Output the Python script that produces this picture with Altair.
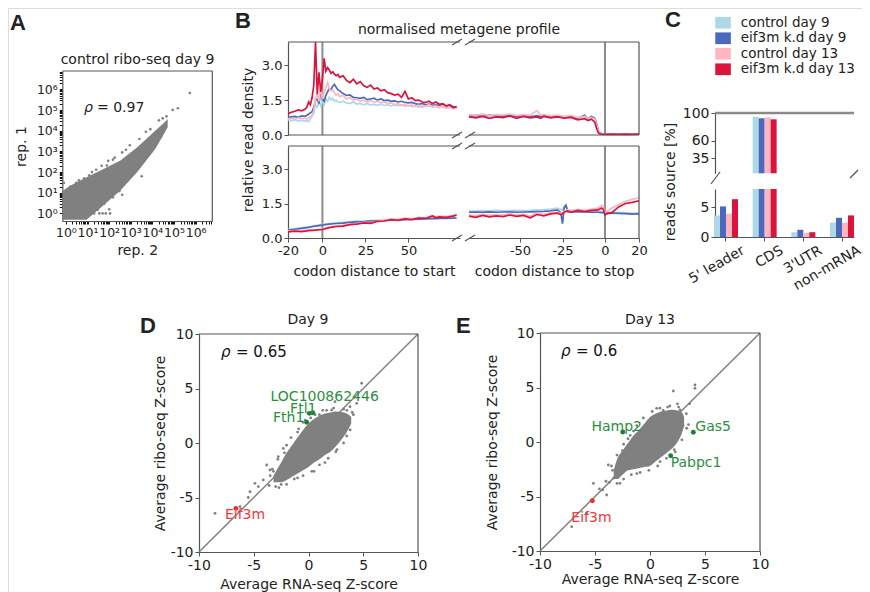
import altair as alt
import pandas as pd

FONT = "DejaVu Sans"
TXT = "#222222"
SPINE = "#555555"
GRAY = "#808080"
VLINE = "#8c8c8c"
M = 8
W, H = 854, 584

SERIES = ["control day 9", "eif3m k.d day 9", "control day 13", "eif3m k.d day 13"]
COLORS = ["#add8e6", "#4a69bd", "#ffb6c1", "#dc143c"]

# ---------------- Panel A (log-log replicate scatter) ----------------
a_band_x = [0.7, 2.0, 9.0, 55, 330, 2000, 13500, 32000, 51000]
a_band_lo = [0.5, 0.5, 0.5, 2.5, 13, 100, 1300, 6300, 14800]
a_band_hi = [12.6, 25, 56, 141, 363, 1585, 10000, 22400, 37200]
a_pt_x = [537000, 151000, 87000, 3470, 78, 1.6, 4, 16, 100, 400, 3200, 20000, 20,
          35, 50, 70, 110, 30000, 45000, 8000, 2500, 600, 150, 0.8, 1.2, 6,
          1.5, 3, 7, 12, 25, 45, 90, 180, 400, 900, 5000,
          30, 60, 150, 300, 700, 1500, 4000, 10000, 25000]
a_pt_y = [676000, 123000, 102000, 760, 209, 20, 40, 100, 1.6, 8, 63, 32000, 1,
          1, 1, 1, 1, 40000, 50000, 12000, 4000, 1200, 400, 30, 14, 0.6,
          18, 30, 50, 70, 130, 200, 350, 500, 900, 2000, 9000,
          1.5, 3, 6, 12, 40, 110, 500, 1500, 5000]

# ---------------- Panel B (metagene profiles) ----------------
b_start_x = [-20, -18, -16, -14, -12, -10, -9, -8, -7, -6, -5, -4, -3, -2, -1, 0, 1, 2, 3, 4,
             5, 6, 7, 8, 9, 10, 12, 14, 16, 18, 20, 22, 24, 26, 28, 30, 32, 34, 36, 38, 40,
             42, 44, 46, 48, 50, 52, 54, 56, 58, 60, 62, 64, 66, 68, 70, 72, 74, 76, 78]
tl_lblue = [0.65, 0.62, 0.66, 0.6, 0.63, 0.6,
            0.62, 0.58, 0.7, 0.8, 0.95, 1.3, 1.2, 1.4, 1.25, 1.5, 1.3, 1.55, 1.45, 1.62,
            1.5, 1.58, 1.45, 1.5, 1.42, 1.4,
            1.45, 1.38, 1.35, 1.42, 1.33, 1.36, 1.3, 1.35, 1.3, 1.32, 1.28, 1.33, 1.27, 1.3,
            1.25, 1.3, 1.26, 1.28, 1.24, 1.27, 1.22, 1.25, 1.2, 1.24, 1.22, 1.25, 1.2, 1.23,
            1.18, 1.22, 1.17, 1.2, 1.15, 1.18]
tl_blue = [0.75, 0.78, 0.8, 0.76, 0.82, 0.8,
           0.85, 0.9, 0.95, 1.0, 1.2, 1.5, 1.55, 1.35, 1.9, 1.55, 1.45, 1.7, 1.85, 2.0,
           1.95, 2.1, 2.18, 2.05, 1.95, 1.9,
           1.78, 1.7, 1.72, 1.62, 1.6, 1.58, 1.62, 1.52, 1.55, 1.58, 1.5, 1.55, 1.48, 1.5,
           1.45, 1.47, 1.42, 1.45, 1.4, 1.38, 1.4, 1.35, 1.32, 1.36, 1.3, 1.33, 1.28, 1.3,
           1.27, 1.32, 1.25, 1.28, 1.22, 1.2]
tl_pink = [0.7, 0.72, 0.68, 0.74, 0.7, 0.72,
           0.68, 0.75, 0.8, 0.85, 1.05, 1.6, 1.75, 1.45, 2.1, 1.55, 1.8, 2.05, 2.25, 2.0,
           1.9, 1.95, 1.8, 1.72, 1.78, 1.65,
           1.7, 1.55, 1.6, 1.5, 1.55, 1.45, 1.5, 1.42, 1.48, 1.4, 1.45, 1.38, 1.42, 1.35,
           1.38, 1.3, 1.35, 1.28, 1.32, 1.25, 1.3, 1.22, 1.28, 1.2, 1.25, 1.3, 1.22, 1.25,
           1.18, 1.22, 1.15, 1.2, 1.12, 1.15]
tl_red = [0.92, 0.98, 1.02, 1.08, 1.04, 1.12,
          1.2, 1.42, 1.3, 1.6, 2.15, 4.0, 1.75, 2.7, 1.85, 2.4, 3.3, 2.75, 2.9, 2.8,
          2.65, 2.72, 2.62, 2.55, 2.6, 2.48,
          2.55, 2.35, 2.25, 2.4, 2.2, 2.3, 2.12, 2.05, 2.15, 1.98, 2.02, 1.9, 1.95, 1.82,
          1.78, 1.72, 1.76, 1.62, 1.88, 1.55, 1.6, 1.48, 1.5, 1.42, 1.4, 1.45, 1.35, 1.42,
          1.32, 1.35, 1.25, 1.3, 1.18, 1.22]

b_stop_x = [-80, -76, -72, -68, -64, -60, -56, -52, -48, -44, -40, -38, -36, -32, -28, -24,
            -20, -16, -12, -10, -8, -6, -5, -4, -3, -2, 0, 4, 8, 12, 16, 20]
tr_lblue = [0.84, 0.82, 0.86, 0.8, 0.85, 0.83, 0.86, 0.82, 0.85, 0.8, 0.84, 0.8, 0.85, 0.8,
            0.83, 0.78, 0.82, 0.74, 0.8, 0.7, 0.76, 0.7, 0.48, 0.18, 0.07, 0.05, 0.04, 0.04,
            0.04, 0.04, 0.04, 0.04]
tr_blue = [0.8, 0.84, 0.8, 0.86, 0.82, 0.8, 0.85, 0.8, 0.84, 0.78, 0.82, 0.8, 0.84, 0.78,
           0.8, 0.75, 0.8, 0.72, 0.85, 0.7, 0.8, 0.72, 0.5, 0.2, 0.08, 0.05, 0.04, 0.04,
           0.04, 0.04, 0.04, 0.04]
tr_pink = [0.88, 0.85, 0.9, 0.84, 0.88, 0.86, 0.9, 0.84, 0.88, 0.85, 1.05, 0.86, 0.88, 0.82,
           0.86, 0.8, 0.84, 0.75, 0.8, 0.72, 0.75, 0.68, 0.45, 0.18, 0.07, 0.05, 0.04, 0.04,
           0.04, 0.04, 0.04, 0.04]
tr_red = [0.78, 0.74, 0.8, 0.72, 0.78, 0.75, 0.82, 0.72, 0.8, 0.74, 0.78, 0.72, 0.8, 0.74,
          0.78, 0.72, 0.76, 0.65, 0.7, 0.62, 0.68, 0.55, 0.3, 0.1, 0.05, 0.04, 0.03, 0.04,
          0.03, 0.04, 0.03, 0.04]

b_start2_x = [-20, -16, -12, -8, -4, 0, 4, 8, 12, 16, 20, 24, 28, 32, 36, 40, 44, 48, 52,
              56, 60, 64, 66, 68, 72, 76, 78]
bl_lblue = [0.37, 0.41, 0.45, 0.49, 0.54, 0.59, 0.63, 0.66, 0.68, 0.71, 0.73, 0.74, 0.76,
            0.78, 0.79, 0.81, 0.82, 0.83, 0.84, 0.85, 0.86, 0.87, 0.87, 0.88, 0.88, 0.89, 0.9]
bl_blue = [0.34, 0.38, 0.42, 0.46, 0.52, 0.56, 0.6, 0.63, 0.65, 0.68, 0.7, 0.71, 0.73, 0.75,
           0.76, 0.78, 0.79, 0.8, 0.81, 0.82, 0.83, 0.84, 0.84, 0.85, 0.85, 0.86, 0.87]
bl_pink = [0.3, 0.32, 0.31, 0.35, 0.36, 0.4, 0.47, 0.53, 0.55, 0.6, 0.63, 0.68, 0.67, 0.74,
           0.77, 0.82, 0.8, 0.86, 0.83, 0.9, 0.88, 0.98, 0.91, 0.95, 0.93, 0.98, 1.03]
bl_red = [0.27, 0.3, 0.28, 0.32, 0.34, 0.37, 0.45, 0.5, 0.52, 0.58, 0.6, 0.66, 0.64, 0.72,
          0.74, 0.8, 0.77, 0.83, 0.8, 0.87, 0.85, 0.96, 0.88, 0.92, 0.9, 0.95, 1.0]

b_stop2_x = [-80, -76, -72, -68, -64, -60, -56, -52, -48, -44, -40, -36, -32, -28, -26, -25,
             -24, -23, -22, -20, -16, -12, -8, -4, -2, -1, 0, 1, 4, 8, 12, 16, 20]
br_lblue = [1.18, 1.17, 1.19, 1.18, 1.2, 1.18, 1.19, 1.2, 1.19, 1.2, 1.22, 1.23, 1.26, 1.3,
            1.25, 1.2, 1.38, 1.45, 1.22, 1.2, 1.19, 1.17, 1.16, 1.15, 1.14, 1.14, 1.13, 1.12,
            1.12, 1.1, 1.1, 1.08, 1.08]
br_blue = [1.12, 1.13, 1.12, 1.14, 1.12, 1.13, 1.14, 1.12, 1.13, 1.14, 1.15, 1.16, 1.18, 1.22,
           1.1, 0.62, 1.32, 1.42, 1.15, 1.15, 1.14, 1.13, 1.12, 1.12, 1.1, 1.1, 1.1, 1.08,
           1.08, 1.07, 1.06, 1.04, 1.05]
br_pink = [1.0, 0.97, 1.03, 0.98, 1.02, 1.0, 1.06, 1.0, 1.04, 0.95, 1.08, 1.02, 1.1, 1.12,
           1.08, 1.1, 1.16, 1.2, 1.22, 1.18, 1.25, 1.2, 1.26, 1.3, 1.42, 1.38, 1.1, 1.15,
           1.3, 1.45, 1.6, 1.68, 1.75]
br_red = [0.95, 0.9, 0.98, 0.92, 0.96, 0.93, 1.0, 0.94, 0.98, 0.88, 1.02, 0.96, 1.05, 1.08,
          1.02, 1.05, 1.12, 1.15, 1.18, 1.12, 1.2, 1.15, 1.2, 1.22, 1.3, 1.25, 1.0, 1.05,
          1.1, 1.35, 1.5, 1.55, 1.62]

# ---------------- Panel C (read source bars) ----------------
c_cats = ["5' leader", "CDS", "3'UTR", "non-mRNA"]
c_ctrl9 = [3.6, 94.7, 0.8, 2.4]
c_kd9 = [5.1, 92.4, 1.2, 3.2]
c_ctrl13 = [3.9, 93.8, 0.7, 2.4]
c_kd13 = [6.3, 90.9, 0.8, 3.6]

# ---------------- Panel D (day 9 Z-scores) ----------------
d_band_x = [-3.2, -2.5, -2.0, -1.5, -1.0, -0.5, 0.0, 0.5, 1.0, 1.5, 2.0, 2.5, 3.0, 3.5, 3.9]
d_band_lo = [-3.6, -3.6, -3.4, -3.1, -2.8, -2.5, -2.2, -1.8, -1.5, -1.1, -0.8, -0.3, 0.3, 1.0, 1.8]
d_band_hi = [-3.0, -1.8, -0.9, -0.2, 0.5, 1.2, 1.8, 2.2, 2.5, 2.7, 2.8, 2.9, 2.85, 2.7, 2.4]
d_pt_x = [4.86, 3.49, 2.42, 2.12, 4.4, 3.79, -4.89, -4.13, -4.58, -6.26, -8.54, -5.34, -3.82,
          -3.52, -2.76, -1.53, 2.88, 1.66, 3.0, 4.0, -3.0, -2.5, -1.0, 0.5, 1.5, -2.0, -1.0,
          0.2, 3.5, -5.5, -3.5, 2.6, -0.5, 1.0, -3.2, -2.2,
          -3.6, -3.3, -2.8, -2.3, -1.6, -0.9, -0.3, 0.6, 1.3, 2.3, 3.2, 4.1, 3.8, 3.2, 2.5,
          1.8, 1.0, 0.3, -0.5, -1.3, -2.0, -2.7]
d_pt_y = [5.48, 0.64, 3.79, 3.03, 3.64, 3.33, -3.7, -3.39, -4.0, -5.84, -6.45, -4.47, -2.02,
          -2.48, -1.25, -0.49, 2.11, 3.0, 1.2, 2.8, -4.0, -3.8, -3.2, -2.6, -1.8, -0.2, 1.0,
          2.3, 3.0, -5.0, -3.0, -0.6, 1.9, 2.6, -2.6, -0.9,
          -3.9, -2.4, -1.5, -0.5, 0.5, 1.3, 2.1, 2.6, 3.0, 3.2, 3.1, 2.6, 1.2, 0.0, -0.8,
          -1.4, -2.0, -2.6, -3.0, -3.3, -3.8, -4.1]
d_up_name = ["LOC100862446", "Ftl1", "Fth1"]
d_up_x = [0.38, 0.07, -0.17]
d_up_y = [2.78, 2.72, 1.9]
d_down_name = ["Eif3m"]
d_down_x = [-6.63]
d_down_y = [-6.0]

# ---------------- Panel E (day 13 Z-scores) ----------------
e_band_x = [-3.3, -3.0, -2.5, -2.0, -1.5, -1.0, -0.5, 0.0, 0.5, 1.0, 1.5, 2.0, 2.5, 2.9, 3.1]
e_band_lo = [-3.4, -3.4, -3.0, -2.6, -2.5, -2.4, -2.3, -2.2, -1.8, -1.4, -1.0, -0.6, 0.0, 0.8, 1.5]
e_band_hi = [-2.6, -1.6, -0.8, -0.1, 0.6, 1.1, 1.7, 2.3, 2.6, 2.8, 2.9, 2.95, 2.9, 2.7, 2.3]
e_pt_x = [4.09, 4.09, 2.12, 0.61, 2.73, -5.15, -3.94, -7.12, -5.76, -3.79, -2.73, 0.91, 3.33,
          3.0, -3.4, -4.3, -4.6, 2.5, 1.2, -1.5, -2.0, -3.3, 2.2, 3.6, -1.2, 1.6, -4.0, -2.5,
          -3.7, -3.5, -3.0, -2.4, -1.8, -1.2, -0.6, 0.2, 0.9, 1.8, 2.6, 3.3, 3.5, 2.9, 2.3,
          1.5, 0.7, -0.1, -0.9, -1.7, -2.4, -3.0]
e_pt_y = [5.23, 4.92, 4.68, 3.09, 2.94, -3.79, -4.86, -7.77, -6.54, -2.11, -3.79, -1.8, 1.26,
          1.5, -2.6, -4.4, -4.3, 3.5, 2.9, 1.0, 0.3, -3.3, -0.7, 3.5, -2.9, 3.2, -3.6, -0.8,
          -3.7, -2.2, -1.2, -0.2, 0.6, 1.5, 2.2, 2.8, 3.1, 3.3, 3.2, 2.6, 1.6, 0.2, -0.9,
          -1.5, -2.2, -2.6, -2.8, -3.0, -3.4, -3.8]
e_up_name = ["Hamp2", "Gas5", "Pabpc1"]
e_up_x = [-2.48, 3.94, 1.88]
e_up_y = [0.92, 0.89, -1.26]
e_down_name = ["Eif3m"]
e_down_x = [-5.24]
e_down_y = [-5.39]

# ======================================================================
BLANK = alt.Data(values=[{}])


def P(v):
    return v - M


def axis(orient, at, **kw):
    off = (P(at) - H) if orient == "bottom" else -P(at)
    base = dict(orient=orient, offset=off, grid=False, domainColor=SPINE, domainWidth=1.2,
                tickColor=SPINE, tickSize=4, tickWidth=1, labelColor=TXT, labelFont=FONT,
                labelFontSize=13, labelPadding=2, labelOverlap=False, labelFlush=False,
                titleFont=FONT, titleFontSize=14, titleFontWeight="normal", titleColor=TXT)
    base.update(kw)
    return alt.Axis(**base)


def text(s, x, y, size=14, align="center", baseline="middle", angle=0, weight="normal",
         font=FONT, color=TXT, style="normal"):
    return alt.Chart(BLANK).mark_text(
        text=s, fontSize=size, align=align, baseline=baseline, angle=angle,
        fontWeight=weight, font=font, color=color, fontStyle=style
    ).encode(x=alt.value(P(x)), y=alt.value(P(y)))


def seg(x0, y0, x1, y1, color=SPINE, width=1.2):
    return alt.Chart(BLANK).mark_rule(color=color, strokeWidth=width).encode(
        x=alt.value(P(x0)), y=alt.value(P(y0)), x2=alt.value(P(x1)), y2=alt.value(P(y1)))


LAYERS = []

# ---------------- A ----------------
sup_expr = ("abs(log(datum.value)/LN10 - round(log(datum.value)/LN10)) < 0.01 ? "
            "'10' + ['\u2070','\u00b9','\u00b2','\u00b3','\u2074','\u2075','\u2076']"
            "[round(log(datum.value)/LN10)] : ''")
a_tx = [m * 10 ** k for k in range(7) for m in range(1, 10) if m * 10 ** k <= 5.9e6]
a_ty = [m * 10 ** k for k in range(7) for m in range(1, 10) if m * 10 ** k <= 7.8e6]


def a_xsc():
    return alt.Scale(type="log", domain=[0.68, 5.9e6], range=[P(62.3), P(212.3)], nice=False)


def a_ysc():
    return alt.Scale(type="log", domain=[0.43, 7.8e6], range=[P(221), P(71)], nice=False)


LAYERS.append(alt.Chart(pd.DataFrame({"x": a_band_x, "lo": a_band_lo, "hi": a_band_hi})).mark_area(
    color=GRAY, opacity=1).encode(
    x=alt.X("x:Q", scale=a_xsc(), axis=axis("bottom", 221, values=a_tx, labelExpr=sup_expr,
                                           labelFontSize=12.5, tickSize=3, tickColor="#111",
                                           title="rep. 2", titlePadding=5)),
    y=alt.Y("lo:Q", scale=a_ysc(), axis=axis("left", 62.3, values=a_ty, labelExpr=sup_expr,
                                            labelFontSize=12.5, tickSize=3, tickColor="#111",
                                            title="rep. 1", titlePadding=8)),
    y2="hi:Q"))
LAYERS.append(alt.Chart(pd.DataFrame({"x": a_pt_x, "y": a_pt_y})).mark_circle(
    size=7, color=GRAY, opacity=1).encode(
    x=alt.X("x:Q", scale=a_xsc(), axis=None), y=alt.Y("y:Q", scale=a_ysc(), axis=None)))


# ---------------- B ----------------
def b_panel(xs, series, xdom, xr, yr, xaxis, yaxis):
    def xsc():
        return alt.Scale(domain=xdom, range=xr, nice=False, zero=False)

    def ysc():
        return alt.Scale(domain=[0, 4], range=yr, nice=False, zero=False, clamp=True)

    out = [alt.Chart(BLANK).mark_rule(color=VLINE, strokeWidth=2).encode(
        x=alt.XDatum(0, scale=xsc(), axis=None), y=alt.YDatum(0, scale=ysc(), axis=None),
        y2=alt.datum(4))]
    for i, (vals, col) in enumerate(zip(series, COLORS)):
        df = pd.DataFrame({"x": xs, "v": vals})
        out.append(alt.Chart(df).mark_line(color=col, strokeWidth=1.7).encode(
            x=alt.X("x:Q", scale=xsc(), axis=(xaxis if i == 0 else None)),
            y=alt.Y("v:Q", scale=ysc(), axis=(yaxis if i == 0 else None))))
    return out


yaxB = dict(values=[0, 1.5, 3.0], labelExpr="format(datum.value, '.1f')", title=None)
LX = [P(288), P(460)]
RX = [P(469), P(639)]
TY = [P(135), P(42)]
BY = [P(238), P(146)]
LAYERS += b_panel(b_start_x, [tl_lblue, tl_blue, tl_pink, tl_red], [-20, 80], LX, TY,
                  None, axis("left", 288, **yaxB))
LAYERS += b_panel(b_stop_x, [tr_lblue, tr_blue, tr_pink, tr_red], [-80, 20], RX, TY,
                  None, None)
LAYERS += b_panel(b_start2_x, [bl_lblue, bl_blue, bl_pink, bl_red], [-20, 80], LX, BY,
                  axis("bottom", 238, values=[-20, 0, 25, 50], labelExpr="'' + datum.value",
                       title="codon distance to start", titlePadding=7),
                  axis("left", 288, **yaxB))
LAYERS += b_panel(b_stop2_x, [br_lblue, br_blue, br_pink, br_red], [-80, 20], RX, BY,
                  axis("bottom", 238, values=[-50, -25, 0, 20], labelExpr="'' + datum.value",
                       title="codon distance to stop", titlePadding=7),
                  None)

# ---------------- C ----------------
c_rows = {"cat": [], "s": [], "v": []}
for sname, vals in zip(SERIES, [c_ctrl9, c_kd9, c_ctrl13, c_kd13]):
    for cat, v in zip(c_cats, vals):
        c_rows["cat"].append(cat)
        c_rows["s"].append(sname)
        c_rows["v"].append(v)
c_df = pd.DataFrame(c_rows)

c_xsc = alt.Scale(domain=c_cats, range=[P(714), P(854)], paddingInner=0.38, paddingOuter=0)
c_osc = alt.Scale(domain=SERIES, paddingInner=0, paddingOuter=0)
c_csc = alt.Scale(domain=SERIES, range=COLORS)
c_top_y = alt.Scale(domain=[13, 100], range=[P(173.3), P(113)], nice=False, zero=False, clamp=True)
c_bot_y = alt.Scale(domain=[0, 8], range=[P(237), P(189)], nice=False, zero=False, clamp=True)

LAYERS.append(alt.Chart(c_df).mark_bar().encode(
    x=alt.X("cat:N", scale=c_xsc, sort=c_cats, axis=None),
    xOffset=alt.XOffset("s:N", scale=c_osc, sort=SERIES),
    y=alt.Y("v:Q", scale=c_top_y, stack=None,
            axis=axis("left", 715, values=[35, 60, 100], labelFontSize=14, title=None)),
    y2=alt.datum(0),
    color=alt.Color("s:N", scale=c_csc, sort=SERIES, legend=None)))

LAYERS.append(alt.Chart(c_df).mark_bar().encode(
    x=alt.X("cat:N", scale=c_xsc, sort=c_cats,
            axis=axis("bottom", 237, labelAngle=-30, labelAlign="right", labelBaseline="top",
                      labelOffset=14, labelFontSize=14, title=None)),
    xOffset=alt.XOffset("s:N", scale=c_osc, sort=SERIES),
    y=alt.Y("v:Q", scale=c_bot_y, stack=None,
            axis=axis("left", 715, values=[0, 5], labelFontSize=14, title=None)),
    y2=alt.datum(0),
    color=alt.Color("s:N", scale=c_csc, sort=SERIES,
                    legend=alt.Legend(orient="none", legendX=P(716.3), legendY=P(16), title=None,
                                      symbolType="M-1.2,-0.9H1.2V0.9H-1.2Z", symbolSize=169,
                                      symbolStrokeWidth=0, symbolOpacity=1, labelFontSize=13.5,
                                      labelFont=FONT, labelColor=TXT, labelOffset=11,
                                      rowPadding=0.5, padding=0))))


# ---------------- D / E ----------------
def z_panel(x0, x1, y0, y1, band, pts, up, down, up_style, down_style, ytp, xtp):
    def xsc():
        return alt.Scale(domain=[-10, 10], range=[P(x0), P(x1)], nice=False, zero=False)

    def ysc():
        return alt.Scale(domain=[-10, 10], range=[P(y0), P(y1)], nice=False, zero=False)

    ticks = [-10, -5, 0, 5, 10]
    out = [alt.Chart(BLANK).mark_rule(color=GRAY, strokeWidth=1.5).encode(
        x=alt.XDatum(-10, scale=xsc(), axis=None), y=alt.YDatum(-10, scale=ysc(), axis=None),
        x2=alt.datum(10), y2=alt.datum(10))]
    bx, blo, bhi = band
    out.append(alt.Chart(pd.DataFrame({"x": bx, "lo": blo, "hi": bhi})).mark_area(
        color=GRAY, opacity=1, interpolate="monotone").encode(
        x=alt.X("x:Q", scale=xsc(),
                axis=axis("bottom", y0, values=ticks, labelExpr="'' + datum.value",
                          labelFontSize=14, title="Average RNA-seq Z-score", titlePadding=xtp)),
        y=alt.Y("lo:Q", scale=ysc(),
                axis=axis("left", x0, values=ticks, labelExpr="'' + datum.value",
                          labelFontSize=14, title="Average ribo-seq Z-score", titlePadding=ytp)),
        y2="hi:Q"))
    px, py = pts
    out.append(alt.Chart(pd.DataFrame({"x": px, "y": py})).mark_circle(
        size=8, color=GRAY, opacity=1).encode(
        x=alt.X("x:Q", scale=xsc(), axis=None), y=alt.Y("y:Q", scale=ysc(), axis=None)))
    for (names, xs, ys), styles, pcol, tcol in [(up, up_style, "#1f7d35", "#2b8f40"),
                                                (down, down_style, "#e8302c", "#f23838")]:
        df = pd.DataFrame({"g": names, "x": xs, "y": ys})
        out.append(alt.Chart(df).mark_circle(size=24, color=pcol, opacity=1).encode(
            x=alt.X("x:Q", scale=xsc(), axis=None), y=alt.Y("y:Q", scale=ysc(), axis=None)))
        for name, (al, dx, dy) in zip(names, styles):
            out.append(alt.Chart(df).transform_filter(alt.datum.g == name).mark_text(
                align=al, baseline="middle", dx=dx, dy=dy, fontSize=14, font=FONT,
                color=tcol).encode(
                x=alt.X("x:Q", scale=xsc(), axis=None), y=alt.Y("y:Q", scale=ysc(), axis=None),
                text="g:N"))
    return out


LAYERS += z_panel(199, 418, 552, 334, (d_band_x, d_band_lo, d_band_hi), (d_pt_x, d_pt_y),
                  (d_up_name, d_up_x, d_up_y), (d_down_name, d_down_x, d_down_y),
                  [("center", 12, -16), ("center", -6, -4), ("center", -18, -4)],
                  [("left", -11, 7)], 3, 5)
LAYERS += z_panel(540, 760, 551, 333, (e_band_x, e_band_lo, e_band_hi), (e_pt_x, e_pt_y),
                  (e_up_name, e_up_x, e_up_y), (e_down_name, e_down_x, e_down_y),
                  [("center", -6, -5), ("left", 2, -5), ("left", 0, 7)],
                  [("left", -21, 17)], 12, 1)

# ---------------- decorations: spines, break marks, titles ----------------
LAYERS += [
    # A frame
    seg(62.3, 71, 212.3, 71), seg(212.3, 71, 212.3, 221),
    # B frames
    seg(288, 42, 460, 42), seg(288, 135, 460, 135), seg(469, 42, 639, 42), seg(469, 135, 639, 135),
    seg(639, 42, 639, 135), seg(288, 146, 460, 146), seg(469, 146, 639, 146), seg(639, 146, 639, 238),
    # B break marks
    seg(452, 45, 462, 39), seg(465, 45, 475, 39), seg(452, 138, 462, 132), seg(465, 138, 475, 132),
    seg(452, 149, 462, 143), seg(465, 149, 475, 143), seg(452, 241, 462, 235), seg(465, 241, 475, 235),
    # C frame and breaks
    seg(715, 113, 854, 113, color="#8a8a8a", width=2.5),
    seg(711, 184, 720, 172), seg(850, 178, 858, 170),
    # D/E frames
    seg(199, 334, 418, 334), seg(418, 334, 418, 552),
    seg(540, 333, 760, 333), seg(760, 333, 760, 551),
    # titles
    text("control ribo-seq day 9", 137.5, 60),
    text("normalised metagene profile", 459, 30),
    text("relative read density", 249, 140, angle=270),
    text("reads source [%]", 671, 182, angle=270),
    text("Day 9", 308, 320),
    text("Day 13", 650, 320),
    # rho annotations
    text("\u03c1", 84, 108, align="left", style="italic"),
    text("= 0.97", 97, 108, align="left"),
    text("\u03c1", 221, 352, size=15, align="left", style="italic", color="#111"),
    text("= 0.65", 236, 352, size=15, align="left", color="#111"),
    text("\u03c1", 561, 351, size=15, align="left", style="italic", color="#111"),
    text("= 0.6", 576, 351, size=15, align="left", color="#111"),
    # panel letters
    text("A", 10, 30, size=22, align="left", baseline="alphabetic", weight="bold", font="Liberation Sans"),
    text("B", 235, 28, size=22, align="left", baseline="alphabetic", weight="bold", font="Liberation Sans"),
    text("C", 665, 27, size=22, align="left", baseline="alphabetic", weight="bold", font="Liberation Sans"),
    text("D", 140, 333, size=22, align="left", baseline="alphabetic", weight="bold", font="Liberation Sans"),
    text("E", 456, 333, size=22, align="left", baseline="alphabetic", weight="bold", font="Liberation Sans"),
]

chart = alt.layer(*LAYERS).resolve_scale(
    x="independent", y="independent", color="independent", xOffset="independent"
).properties(
    width=W, height=H, autosize=alt.AutoSizeParams(type="none"), padding=0
).configure_view(stroke=None).configure(font=FONT)

chart.save("out.html", embed_options={"renderer": "svg", "actions": False})
